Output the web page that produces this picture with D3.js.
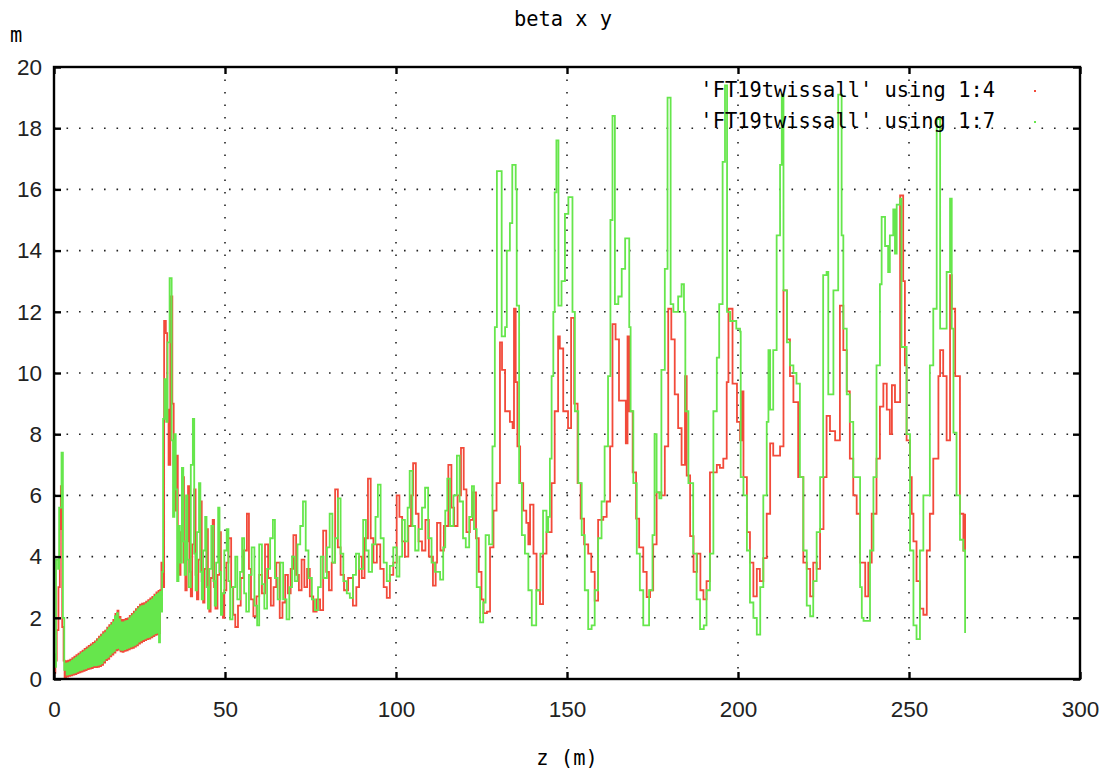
<!DOCTYPE html>
<html>
<head>
<meta charset="utf-8">
<title>beta x y</title>
<script src="https://cdn.jsdelivr.net/npm/d3@7"></script>
<style>
  body { margin: 0; background: #fff; }
  svg { display: block; }
  .mono { font-family: "DejaVu Sans Mono", monospace; font-size: 20.4px; fill: #000; }
  .tick text { font-family: "Liberation Sans", Arial, sans-serif; font-size: 22.5px; fill: #222; }
</style>
</head>
<body>
<script>

// beta x (column 4) : [z, beta]
const betaxStart = [[0,0.2],[0.4,0.6],[0.8,1.6],[1.3,3.0],[1.7,4.9],[2.0,6.3],[2.4,1.7],[2.8,0.6]];
const betaxRamp = [
  [3.1,0.05],[3.55,0.58],[3.85,0.08],[4.15,0.6],[4.45,0.1],[4.75,0.63],[5.05,0.12],[5.35,0.68],[5.65,0.14],[5.95,0.73],
  [6.25,0.16],[6.55,0.78],[6.85,0.19],[7.15,0.83],[7.45,0.22],[7.75,0.88],[8.05,0.24],[8.35,0.93],[8.65,0.27],[8.95,0.98],
  [9.25,0.29],[9.55,1.03],[9.85,0.32],[10.15,1.08],[10.45,0.34],[10.75,1.13],[11.05,0.36],[11.35,1.18],[11.65,0.39],[11.95,1.23],
  [12.25,0.39],[12.55,1.3],[12.85,0.4],[13.15,1.38],[13.45,0.42],[13.75,1.45],[14.05,0.46],[14.35,1.53],[14.65,0.54],[14.95,1.58],
  [15.25,0.62],[15.55,1.68],[15.85,0.66],[16.15,1.76],[16.45,0.74],[16.75,1.83],[17.05,0.8],[17.35,1.93],[17.65,0.86],[17.95,2.13],
  [18.25,0.94],[18.55,2.23],[18.85,0.96],[19.15,2.03],[19.45,0.9],[19.75,1.93],[20.05,0.89],[20.35,1.93],[20.65,0.92],[20.95,1.96],
  [21.25,0.94],[21.55,1.98],[21.85,0.97],[22.15,2.06],[22.45,1.0],[22.75,2.13],[23.05,1.02],[23.35,2.2],[23.65,1.06],[23.95,2.28],
  [24.25,1.1],[24.55,2.36],[24.85,1.16],[25.15,2.43],[25.45,1.2],[25.75,2.46],[26.05,1.24],[26.35,2.48],[26.65,1.27],[26.95,2.53],
  [27.25,1.3],[27.55,2.58],[27.85,1.32],[28.15,2.63],[28.45,1.36],[28.75,2.68],[29.05,1.4],[29.35,2.76],[29.65,1.44],[29.95,2.83],
  [30.25,1.46],[30.55,2.88],[30.85,1.5]
];
const betaxMid = [
  [31.0,2.9],[31.4,3.8],[31.8,3.0],[32.2,11.7],[32.7,11.3],[33.1,8.8],[33.5,7.0],[34.0,12.5],[34.6,9.0],[35.0,6.9],
  [35.4,5.5],[35.8,7.3],[36.2,4.6],[36.6,3.4],[37.0,4.8],[37.6,6.6],[38.0,3.8],[38.4,2.9],[38.8,4.5],[39.2,6.3],
  [39.6,3.5],[40.0,2.7],[40.4,4.4],[41.0,6.2],[41.4,3.4],[41.8,2.6],[42.2,3.9],[42.8,5.8],[43.2,3.2],[43.6,2.5],
  [44.0,3.6],[44.6,4.9],[45.0,2.8],[45.4,2.2],[45.8,3.3],[46.4,5.2],[46.8,3.0],[47.2,2.3],[47.8,3.4],[48.4,4.8],
  [48.8,2.8],[49.4,2.0],[49.8,2.9],[50.4,3.8],[51.0,4.6],[51.8,3.0],[52.4,2.1],[53.0,1.7],[53.8,2.4],[54.6,3.3],
  [55.4,4.2],[56.4,5.4],[57.0,3.6],[57.6,2.6],[58.3,2.05],[59.2,2.7],[60.0,3.4],[60.8,2.8],[61.7,4.4],[62.6,3.3],
  [63.4,2.4],[64.2,3.0],[65.0,3.8],[66.0,2.0],[66.8,2.5],[67.6,3.4],[68.4,2.8],[69.2,3.6],[70.0,4.7],[70.8,3.4],
  [71.6,2.9],[72.4,3.9],[73.2,3.0],[74.0,3.6],[74.8,2.7],[75.8,2.2],[76.8,2.6],[77.8,2.25],[78.7,4.85],[79.6,3.5],
  [80.4,2.9],[81.2,3.8],[82.2,6.2],[83.0,4.3],[83.8,3.4],[84.8,2.9],[86.0,3.3],[87.4,2.4],[88.4,3.0],[89.2,4.0],
  [90.0,3.3],[90.8,4.6],[91.8,6.55],[92.6,4.6],[93.4,3.8],[94.4,4.4],[95.4,3.6],[96.4,3.0],[97.3,2.65],[98.2,3.4],
  [99.2,3.8],[100.2,6.0],[101.0,5.3],[101.8,4.5],[102.6,4.0],[103.6,5.0],[104.4,6.0],[105.0,7.05],[105.8,5.4],[106.6,4.5],
  [107.6,4.2],[108.6,5.2],[109.6,4.0],[110.8,3.05],[111.6,3.8],[112.0,5.1],[113.0,4.2],[114.0,5.0],[115.3,7.0],[116.2,5.6],
  [117.0,5.0],[118.0,6.0],[119.0,7.55],[119.8,6.2],[120.6,4.8],[121.6,5.2],[122.5,6.1],[123.4,4.6],[124.2,3.5],[125.0,2.6]
];
const betaxCells = [
  [125.6,2.15],[126.6,2.2],[127.5,4.3],[128.5,5.5],[129.4,6.4],[130.4,11.0],[131.0,10.1],[131.9,8.75],[133.3,8.4],[134.1,8.2],
  [134.5,12.1],[135.0,9.7],[135.5,7.6],[136.3,6.4],[137.2,5.5],[138.1,5.1],[138.7,4.4],[139.2,5.7],[140.2,4.1],[141.1,2.9],
  [142.1,2.45],[143.0,4.1],[144.0,4.8],[145.5,6.4],[146.4,8.75],[147.4,11.2],[147.9,10.8],[148.9,8.75],[150.3,8.2],[151.2,11.8],
  [152.1,9.0],[153.1,6.4],[154.0,5.24],[155.0,4.4],[156.2,4.1],[157.1,3.5],[158.1,2.56],[159.1,5.2],[160.6,5.3],[161.6,5.8],
  [162.6,7.6],[163.3,11.6],[164.2,11.1],[165.2,9.1],[167.2,7.7],[167.7,11.2],[168.2,8.75],[169.2,6.75],[170.2,5.24],[171.1,4.3],
  [172.3,3.5],[173.3,2.68],[174.3,2.9],[175.2,4.4],[176.2,6.1],[177.6,6.0],[178.6,7.6],[179.6,12.1],[180.5,11.1],[181.5,9.3],
  [182.5,8.2],[183.5,7.0],[184.5,9.9],[185.0,6.65],[186.0,4.67],[187.0,3.5],[188.0,4.1],[189.0,2.9],[189.9,2.6],[190.8,3.2],
  [191.8,6.75],[193.8,7.0],[194.7,6.9],[195.7,7.2],[196.7,9.7],[197.2,12.1],[198.4,9.65],[199.7,8.4],[200.6,7.8],[201.1,9.4],
  [201.6,6.6],[202.6,4.8],[203.5,3.8],[204.5,2.7],[205.5,3.6],[206.4,3.2],[207.4,3.95],[208.4,5.4],[209.4,7.7],[210.3,7.3],
  [212.3,7.6],[213.3,12.7],[214.3,11.1],[215.2,9.9],[216.2,9.05],[217.6,6.6],[219.1,3.8],[220.1,3.6],[221.1,2.7],[222.0,3.8],
  [223.0,3.6],[224.0,4.9],[225.0,6.6],[225.9,8.6],[226.9,8.1],[228.4,7.8],[229.8,12.2],[230.8,10.75],[231.8,9.4],[232.7,7.2],
  [233.7,6.0],[234.7,5.4],[235.7,3.8],[237.2,2.7],[238.1,3.8],[239.1,5.4],[240.5,7.2],[241.5,8.9],[242.5,9.65],[243.5,8.8],
  [244.4,8.0],[245.0,9.6],[245.9,9.05],[247.4,15.8],[248.3,13.0],[248.8,10.25],[249.3,7.8],[250.3,6.6],[250.8,5.4],[251.3,4.5],
  [252.2,3.2],[253.2,2.3],[254.2,2.1],[255.2,4.2],[256.1,5.4],[257.1,7.2],[258.6,9.9],[259.1,10.75],[260.0,9.9],[261.0,7.8],
  [262.0,13.2],[262.5,12.1],[263.5,9.9],[264.9,5.4],[265.9,4.2],[266.4,5.4]
];

// beta y (column 7) : [z, beta]
const betayStart = [[0,0.8],[0.3,0.4],[0.6,3.9],[1.2,3.6],[1.5,5.6],[2.2,7.4],[2.6,2.0],[3.0,0.3]];
const betayRamp = [
  [3.4,0.5],[3.7,0.14],[4.0,0.52],[4.3,0.16],[4.6,0.55],[4.9,0.18],[5.2,0.6],[5.5,0.2],[5.8,0.65],[6.1,0.22],
  [6.4,0.7],[6.7,0.25],[7.0,0.75],[7.3,0.28],[7.6,0.8],[7.9,0.3],[8.2,0.85],[8.5,0.33],[8.8,0.9],[9.1,0.35],
  [9.4,0.95],[9.7,0.38],[10.0,1.0],[10.3,0.4],[10.6,1.05],[10.9,0.42],[11.2,1.1],[11.5,0.45],[11.8,1.15],[12.1,0.45],
  [12.4,1.22],[12.7,0.46],[13.0,1.3],[13.3,0.48],[13.6,1.37],[13.9,0.52],[14.2,1.45],[14.5,0.6],[14.8,1.5],[15.1,0.68],
  [15.4,1.6],[15.7,0.72],[16.0,1.68],[16.3,0.8],[16.6,1.75],[16.9,0.86],[17.2,1.85],[17.5,0.92],[17.8,2.05],[18.1,1.0],
  [18.4,2.15],[18.7,1.02],[19.0,1.95],[19.3,0.96],[19.6,1.85],[19.9,0.95],[20.2,1.85],[20.5,0.98],[20.8,1.88],[21.1,1.0],
  [21.4,1.9],[21.7,1.03],[22.0,1.98],[22.3,1.06],[22.6,2.05],[22.9,1.08],[23.2,2.12],[23.5,1.12],[23.8,2.2],[24.1,1.16],
  [24.4,2.28],[24.7,1.22],[25.0,2.35],[25.3,1.26],[25.6,2.38],[25.9,1.3],[26.2,2.4],[26.5,1.33],[26.8,2.45],[27.1,1.36],
  [27.4,2.5],[27.7,1.38],[28.0,2.55],[28.3,1.42],[28.6,2.6],[28.9,1.46],[29.2,2.68],[29.5,1.5],[29.8,2.75],[30.1,1.52],
  [30.4,2.8],[30.7,1.2],[31.0,2.85]
];
const betayMid = [
  [31.3,2.2],[31.6,3.5],[31.9,8.5],[32.3,9.8],[32.8,8.4],[33.2,11.0],[33.8,13.1],[34.4,7.8],[34.8,5.3],[35.2,8.0],
  [35.6,6.2],[36.0,3.2],[36.4,5.0],[36.8,3.8],[37.4,6.9],[37.8,4.5],[38.2,3.4],[38.6,6.0],[39.0,3.9],[39.4,3.0],
  [40.0,7.0],[40.6,8.5],[41.0,4.1],[41.4,2.9],[41.8,4.8],[42.4,6.4],[42.8,3.5],[43.2,2.6],[43.6,4.2],[44.2,5.3],
  [44.6,3.0],[45.0,2.3],[45.4,3.6],[46.0,5.0],[46.6,3.2],[47.0,2.4],[47.4,3.8],[48.0,5.6],[48.4,3.5],[48.8,2.1],
  [49.2,2.8],[49.8,4.2],[50.5,4.9],[51.0,3.2],[51.5,1.95],[52.2,3.0],[53.0,4.0],[53.6,2.6],[54.4,3.5],[55.0,4.6],
  [55.6,2.8],[56.2,2.2],[57.0,3.4],[57.8,4.3],[58.6,2.4],[59.4,1.75],[60.0,4.4],[60.8,3.1],[61.5,2.3],[62.3,3.6],
  [63.2,4.6],[64.0,5.2],[64.6,3.3],[65.4,2.6],[66.2,3.8],[67.0,2.6],[68.0,1.95],[68.8,3.0],[69.6,4.0],[70.4,3.2],
  [71.2,4.4],[72.0,5.0],[72.8,5.8],[73.6,4.2],[74.4,3.3],[75.4,2.6],[76.3,2.25],[77.2,3.0],[78.0,4.0],[78.8,3.3],
  [79.8,4.3],[80.6,5.4],[81.4,3.8],[82.2,4.6],[83.0,5.9],[83.8,4.1],[84.6,3.2],[85.6,2.8],[86.5,2.65],[87.4,3.4],
  [88.3,4.1],[89.2,3.6],[90.4,5.2],[91.2,4.2],[92.0,3.5],[93.0,4.4],[94.0,5.3],[94.7,6.35],[95.5,4.6],[96.4,3.8],
  [97.3,3.2],[98.2,3.7],[99.2,4.3],[100.2,3.35],[101.0,4.0],[101.8,5.2],[102.6,4.5],[103.4,5.6],[104.0,6.8],[104.8,5.0],
  [105.6,4.2],[106.6,4.9],[107.6,5.6],[108.5,6.25],[109.4,4.6],[110.4,3.8],[111.4,3.5],[112.9,3.25],[113.8,4.3],[114.4,5.5],
  [115.0,6.55],[115.8,5.0],[116.8,6.0],[117.8,7.3],[118.6,5.8],[119.6,4.6],[120.4,4.3],[121.4,5.3],[122.2,6.3],[122.8,4.9],
  [123.6,3.0],[124.6,1.85]
];
const betayCells = [
  [125.5,2.5],[126.2,4.7],[127.2,4.4],[128.2,7.6],[128.9,11.5],[129.5,16.6],[130.9,11.2],[131.9,11.5],[132.4,14.0],[133.3,14.9],
  [134.0,16.8],[135.0,16.0],[135.3,12.2],[136.0,6.4],[136.8,4.7],[137.7,4.1],[138.7,2.9],[139.7,1.75],[141.0,2.9],[142.2,4.1],
  [143.0,5.5],[144.0,4.8],[144.5,5.3],[145.0,7.2],[145.5,9.9],[146.0,12.0],[146.4,15.9],[146.9,17.6],[147.5,12.2],[148.4,13.0],
  [149.4,15.2],[150.4,15.75],[151.6,12.0],[152.3,8.75],[153.3,6.4],[154.3,4.7],[155.2,2.9],[156.2,1.63],[157.2,1.75],[158.1,2.9],
  [159.1,4.6],[160.1,5.8],[161.0,7.6],[162.0,9.9],[162.7,15.0],[163.3,18.4],[164.0,12.25],[165.0,12.5],[166.0,13.4],[167.0,14.4],
  [168.2,11.5],[168.6,8.75],[169.4,6.4],[170.4,4.1],[171.3,2.9],[172.3,1.75],[174.0,2.9],[175.0,4.7],[175.6,8.0],[176.2,6.1],
  [177.0,5.9],[177.6,10.1],[178.6,13.4],[179.4,19.0],[180.3,12.25],[181.1,12.0],[182.5,12.5],[183.5,12.9],[184.2,12.0],[184.6,8.75],
  [185.5,6.4],[186.9,4.1],[187.9,2.6],[188.9,1.63],[190.0,1.75],[190.8,2.9],[191.8,4.1],[192.8,8.75],[193.8,10.5],[194.5,12.25],
  [195.5,16.9],[196.2,19.4],[196.8,12.0],[197.7,11.7],[199.5,11.45],[200.6,11.35],[200.8,6.6],[201.6,6.0],[202.6,4.2],[203.5,2.5],
  [204.5,2.0],[205.5,1.45],[206.5,3.0],[207.4,6.0],[208.4,8.4],[208.9,10.75],[209.4,8.8],[210.3,10.75],[211.3,14.5],[212.3,16.8],
  [212.8,19.1],[213.3,12.7],[214.3,11.0],[215.2,10.25],[216.2,10.0],[217.1,9.65],[218.1,6.6],[219.1,4.2],[220.1,2.4],[221.1,2.05],
  [222.0,3.2],[223.0,4.8],[224.0,6.6],[224.9,13.2],[225.9,13.3],[226.4,9.3],[227.9,12.7],[229.3,19.1],[230.3,14.5],[230.8,11.45],
  [231.8,9.3],[232.7,8.4],[233.7,6.6],[235.7,3.0],[236.2,2.0],[236.7,1.9],[238.6,4.2],[239.6,6.6],[240.5,10.25],[241.5,12.9],
  [242.0,15.1],[243.0,14.15],[243.9,13.3],[244.4,14.5],[245.4,15.35],[245.9,13.9],[246.4,15.5],[247.4,15.7],[247.8,10.85],[249.3,8.0],
  [250.3,4.2],[251.3,1.75],[252.2,1.3],[253.2,4.2],[254.2,6.0],[255.2,6.0],[256.1,10.25],[257.1,12.1],[258.1,18.3],[259.1,11.45],
  [260.0,11.45],[261.0,13.3],[262.0,15.7],[262.5,11.45],[263.0,8.05],[263.9,6.0],[264.9,4.55],[265.9,4.2],[266.4,1.5]
];

const xTicks = [0, 50, 100, 150, 200, 250, 300];
const yTicks = [0, 2, 4, 6, 8, 10, 12, 14, 16, 18, 20];
const legendLabels = ["'FT19twissall' using 1:4", "'FT19twissall' using 1:7"];
const colors = ["#f24a3a", "#66e64c"];

const width = 1108, height = 774;
const margin = {left: 54, right: 28, top: 67, bottom: 95};
const iw = width - margin.left - margin.right;
const ih = height - margin.top - margin.bottom;

const svg = d3.select("body").append("svg")
    .attr("width", width)
    .attr("height", height);

const x = d3.scaleLinear().domain([0, 300]).range([0, iw]);
const y = d3.scaleLinear().domain([0, 20]).range([ih, 0]);

const g = svg.append("g").attr("transform", `translate(${margin.left},${margin.top})`);

// dotted grid
g.append("g").selectAll("line").data(xTicks).join("line")
    .attr("x1", d => x(d)).attr("x2", d => x(d))
    .attr("y1", 0).attr("y2", ih)
    .attr("stroke", "#222").attr("stroke-width", 1.6)
    .attr("stroke-dasharray", "1.6,10.9");
g.append("g").selectAll("line").data(yTicks).join("line")
    .attr("y1", d => y(d)).attr("y2", d => y(d))
    .attr("x1", 0).attr("x2", iw)
    .attr("stroke", "#222").attr("stroke-width", 1.6)
    .attr("stroke-dasharray", "1.6,10.9");

g.append("clipPath").attr("id", "clip")
  .append("rect").attr("width", iw).attr("height", ih);

const line = d3.line()
    .x(d => x(d[0]))
    .y(d => y(d[1]))
    .curve(d3.curveStepAfter);

const betax = betaxStart.concat(betaxRamp, betaxMid, betaxCells);
const betay = betayStart.concat(betayRamp, betayMid, betayCells);

const plot = g.append("g").attr("clip-path", "url(#clip)");
[betax, betay].forEach((s, i) => {
  plot.append("path")
      .datum(s)
      .attr("fill", "none")
      .attr("stroke", colors[i])
      .attr("stroke-width", 1.8)
      .attr("d", line);
});

// axes with inward ticks on all sides
g.append("g").attr("transform", `translate(0,${ih})`)
    .call(d3.axisBottom(x).tickValues(xTicks).tickSizeInner(-7).tickSizeOuter(0).tickPadding(22));
g.append("g")
    .call(d3.axisLeft(y).tickValues(yTicks).tickSizeInner(-7).tickSizeOuter(0).tickPadding(12));
g.append("g")
    .call(d3.axisTop(x).tickValues(xTicks).tickSizeInner(-7).tickSizeOuter(0).tickFormat(""));
g.append("g").attr("transform", `translate(${iw},0)`)
    .call(d3.axisRight(y).tickValues(yTicks).tickSizeInner(-7).tickSizeOuter(0).tickFormat(""));
g.selectAll(".domain").remove();
g.selectAll(".tick line").attr("stroke", "#000").attr("stroke-width", 2.4);

g.append("rect")
    .attr("width", iw).attr("height", ih)
    .attr("fill", "none").attr("stroke", "#000").attr("stroke-width", 2.4);

// legend
legendLabels.forEach((t, i) => {
  svg.append("text").attr("class", "mono")
      .attr("x", 995).attr("y", 97 + i * 31)
      .attr("text-anchor", "end")
      .text(t);
  svg.append("rect")
      .attr("x", 1034).attr("y", 90 + i * 31)
      .attr("width", 2).attr("height", 2)
      .attr("fill", colors[i]);
});

svg.append("text").attr("class", "mono")
    .attr("x", 563).attr("y", 26).attr("text-anchor", "middle").text("beta x y");
svg.append("text").attr("class", "mono")
    .attr("x", 10).attr("y", 42).text("m");
svg.append("text").attr("class", "mono")
    .attr("x", 567).attr("y", 765).attr("text-anchor", "middle").text("z (m)");

</script>
</body>
</html>
